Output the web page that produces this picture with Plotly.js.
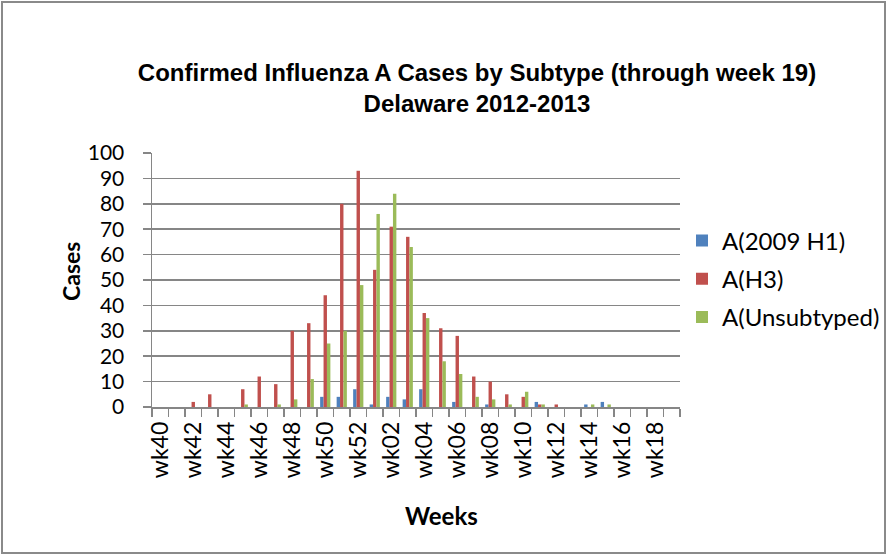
<!DOCTYPE html>
<html>
<head>
<meta charset="utf-8">
<script src="https://cdn.plot.ly/plotly-3.0.1.min.js"></script>
<style>
  html, body { margin: 0; padding: 0; background: #fff; }
  #wrap { position: relative; width: 887px; height: 557px; }
  #chart { position: absolute; left: 0; top: 0; width: 887px; height: 557px; }
  #frame { position: absolute; left: 1px; top: 1px; width: 881px; height: 549px;
           border: 2px solid #8a8a8a; pointer-events: none; }
</style>
</head>
<body>
<div id="wrap">
  <div id="chart"></div>
  <div id="frame"></div>
</div>
<script>
const weeks = ['wk40','wk41','wk42','wk43','wk44','wk45','wk46','wk47','wk48','wk49','wk50','wk51','wk52',
               'wk01','wk02','wk03','wk04','wk05','wk06','wk07','wk08','wk09','wk10','wk11','wk12','wk13',
               'wk14','wk15','wk16','wk17','wk18','wk19'];
const tickLabels = ['wk40','','wk42','','wk44','','wk46','','wk48','','wk50','','wk52',
                    '','wk02','','wk04','','wk06','','wk08','','wk10','','wk12','',
                    'wk14','','wk16','','wk18',''];
const h1Cases    = [0,0,0,0,0,0,0,0,0,0,4,4,7, 1,4,3,7,0,2,0,1,0,0,2,0,0, 1,2,0,0,0,0];
const h3Cases    = [0,0,2,5,0,7,12,9,30,33,44,80,93, 54,71,67,37,31,28,12,10,5,4,1,1,0, 0,0,0,0,0,0];
const unsubCases = [0,0,0,0,0,1,0,1,3,11,25,30,48, 76,84,63,35,18,13,4,3,1,6,1,0,0, 1,1,0,0,0,0];
const seriesNames = ['A(2009 H1)','A(H3)','A(Unsubtyped)'];
const seriesColors = ['#4F81BD','#C0504D','#9BBB59'];

const lblFont = 'Lato, "Open Sans", sans-serif';
const boldFont = 'Liberation Sans, Arial, sans-serif';

const traces = [h1Cases, h3Cases, unsubCases].map((vals, i) => ({
  type: 'bar',
  x: weeks,
  y: vals,
  name: seriesNames[i],
  legendgroup: 'g' + i,
  marker: { color: seriesColors[i], line: { width: 0 } }
}));

const layout = {
  width: 887, height: 557,
  margin: { l: 152, r: 207, t: 153, b: 150, pad: 0, autoexpand: false },
  paper_bgcolor: '#fff', plot_bgcolor: '#fff',
  barmode: 'group', bargap: 0.38, bargroupgap: 0,
  title: {
    text: '<b>Confirmed Influenza A Cases by Subtype (through week 19)</b><br><b>Delaware 2012-2013</b>',
    font: { family: boldFont, size: 24, color: '#000' },
    x: 477 / 887, xref: 'container', xanchor: 'center',
    y: 1 - 81 / 557, yref: 'container', yanchor: 'middle'
  },
  xaxis: {
    type: 'category',
    categoryorder: 'array', categoryarray: weeks,
    tickmode: 'array', tickvals: weeks, ticktext: tickLabels,
    tickson: 'boundaries', ticks: 'outside', ticklen: 8, tickwidth: 1.5, tickcolor: '#868686',
    tickangle: -90,
    tickfont: { family: lblFont, size: 23, color: '#000' },
    ticklabelstandoff: 4,
    showline: true, linecolor: '#868686', linewidth: 1.5,
    showgrid: false, zeroline: false, fixedrange: true, automargin: false
  },
  yaxis: {
    range: [0, 100], dtick: 10, tick0: 0,
    ticks: 'outside', ticklen: 8, tickwidth: 1.5, tickcolor: '#868686',
    tickfont: { family: lblFont, size: 21, color: '#000' },
    ticklabelstandoff: 14,
    showline: true, linecolor: '#868686', linewidth: 1.5,
    showgrid: true, gridcolor: '#868686', gridwidth: 1.5,
    zeroline: false, fixedrange: true, automargin: false
  },
  legend: {
    x: (682 - 152) / 528, xanchor: 'left', y: (407 - 279) / 254, yanchor: 'middle',
    font: { family: lblFont, size: 24, color: '#000' },
    tracegroupgap: 4, itemwidth: 30,
    bgcolor: 'rgba(0,0,0,0)'
  },
  annotations: [
    { text: '<b>Cases</b>', textangle: -90, xref: 'paper', yref: 'paper',
      x: (71 - 152) / 528, y: (407 - 272) / 254, xanchor: 'center', yanchor: 'middle',
      showarrow: false, font: { family: lblFont, size: 23, color: '#000' } },
    { text: '<b>Weeks</b>', xref: 'paper', yref: 'paper',
      x: (441 - 152) / 528, y: (407 - 515) / 254, xanchor: 'center', yanchor: 'middle',
      showarrow: false, font: { family: lblFont, size: 24, color: '#000' } }
  ],
  showlegend: true
};

Plotly.newPlot('chart', traces, layout, { displayModeBar: false, staticPlot: true });
</script>
</body>
</html>
